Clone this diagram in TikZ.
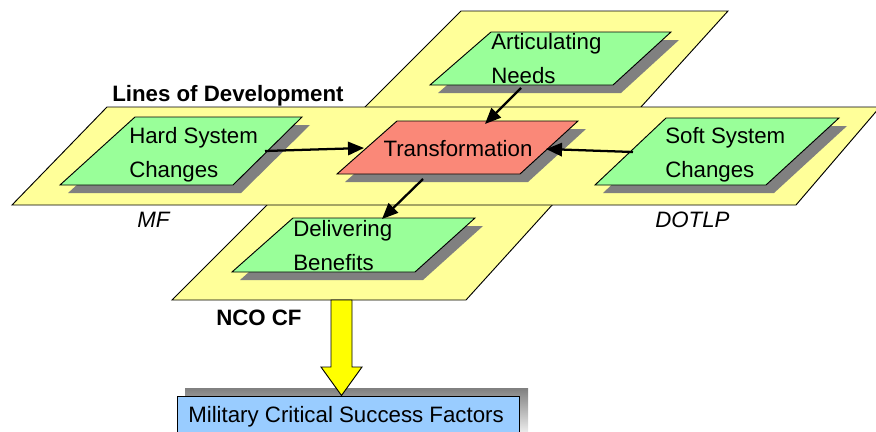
\documentclass[tikz,border=0pt]{standalone}
\usepackage{fontspec}
\setmainfont{Liberation Sans}
\usetikzlibrary{arrows.meta}
\definecolor{bandY}{HTML}{FFFF99}
\definecolor{boxG}{HTML}{99FF99}
\definecolor{boxR}{HTML}{FA8878}
\definecolor{boxB}{HTML}{99CCFF}
\definecolor{shade}{HTML}{808080}
\definecolor{arrY}{HTML}{FFFF00}
\begin{document}
\begin{tikzpicture}[x=0.75pt,y=-0.75pt,
  band/.style={fill=bandY,draw=black,line width=0.7pt},
  gbox/.style={fill=boxG,draw=black,line width=0.7pt},
  rbox/.style={fill=boxR,draw=black,line width=0.7pt},
  shadowfill/.style={fill=shade,shift={(8,8)}},
  lbl/.style={font=\fontsize{16.7}{25.5}\selectfont,inner sep=0pt,align=left},
  blbl/.style={font=\fontsize{16.7}{25.5}\selectfont\bfseries,inner sep=0pt},
  ilbl/.style={font=\fontsize{16.7}{25.5}\selectfont\itshape,inner sep=0pt},
  conn/.style={line width=1.7pt,-{Triangle[length=12pt,width=10pt]}},
  bigarrow/.style={fill=arrY,draw=black,line width=0.7pt}
]
\useasboundingbox (0,0) rectangle (876,432);
% bands
\draw[band] (461,11) -- (728,11) -- (466,300) -- (172,300) -- cycle;
\draw[band] (107,107) -- (880,107) -- (796,205) -- (12,205) -- cycle;
% shadows
\fill[shadowfill] (491,32) -- (671,32) -- (613,85) -- (430,85) -- cycle;
\fill[shadowfill] (135,117) -- (302,117) -- (233,185) -- (60,185) -- cycle;
\fill[shadowfill] (397,121) -- (578,121) -- (520,174) -- (337,174) -- cycle;
\fill[shadowfill] (666,118) -- (839,118) -- (766,185) -- (595,185) -- cycle;
\fill[shadowfill] (293,218) -- (475,218) -- (415,272) -- (232,272) -- cycle;
% boxes
\draw[gbox] (491,32) -- (671,32) -- (613,85) -- (430,85) -- cycle;
\draw[gbox] (135,117) -- (302,117) -- (233,185) -- (60,185) -- cycle;
\draw[rbox] (397,121) -- (578,121) -- (520,174) -- (337,174) -- cycle;
\draw[gbox] (666,118) -- (839,118) -- (766,185) -- (595,185) -- cycle;
\draw[gbox] (293,218) -- (475,218) -- (415,272) -- (232,272) -- cycle;
% texts (base anchor = baseline of the last line)
\node[lbl,anchor=base west] (needs) at (491,84) {Articulating\\Needs};
\node[lbl,anchor=base west] (hard) at (129,177) {Hard System\\Changes};
\node[lbl,anchor=base] (trans) at (458,156) {Transformation};
\node[lbl,anchor=base west] (soft) at (665,177) {Soft System\\Changes};
\node[lbl,anchor=base west] (deliv) at (293,270) {Delivering\\Benefits};
\node[blbl,anchor=base west] (lod) at (112,101) {Lines of Development};
\node[ilbl,anchor=base west] (mf) at (137,227) {MF};
\node[ilbl,anchor=base west] (dotlp) at (655,227) {DOTLP};
\node[blbl,anchor=base west] (nco) at (216,325) {NCO CF};
% connector end points
\coordinate (needsOut) at (521,88);
\coordinate (transTop) at (485,124);
\coordinate (hardOut) at (265,151);
\coordinate (transLeft) at (364,148);
\coordinate (softOut) at (633,152);
\coordinate (transRight) at (546,149);
\coordinate (transOut) at (423,179);
\coordinate (delivTop) at (382,219);
\draw[conn] (needsOut) -- (transTop);
\draw[conn] (hardOut) -- (transLeft);
\draw[conn] (softOut) -- (transRight);
\draw[conn] (transOut) -- (delivTop);
% bottom box
\fill[shade] (185,388) rectangle (528,440);
\draw[fill=boxB,line width=0.7pt] (177,396) rectangle (519,445);
\node[lbl,anchor=base west] (mcsf) at (188,422) {Military Critical Success Factors};
% big yellow arrow
\coordinate (bandBottom) at (341.5,300);
\coordinate (mcsfTop) at (341.5,395.5);
\draw[bigarrow] ([xshift=-10.5*0.75pt]bandBottom) -- ([xshift=10.5*0.75pt]bandBottom)
  -- ([xshift=10.5*0.75pt]bandBottom |- 0,367) -- ([xshift=20.5*0.75pt]bandBottom |- 0,367)
  -- (mcsfTop) -- ([xshift=-20.5*0.75pt]bandBottom |- 0,367)
  -- ([xshift=-10.5*0.75pt]bandBottom |- 0,367) -- cycle;
\end{tikzpicture}
\end{document}
